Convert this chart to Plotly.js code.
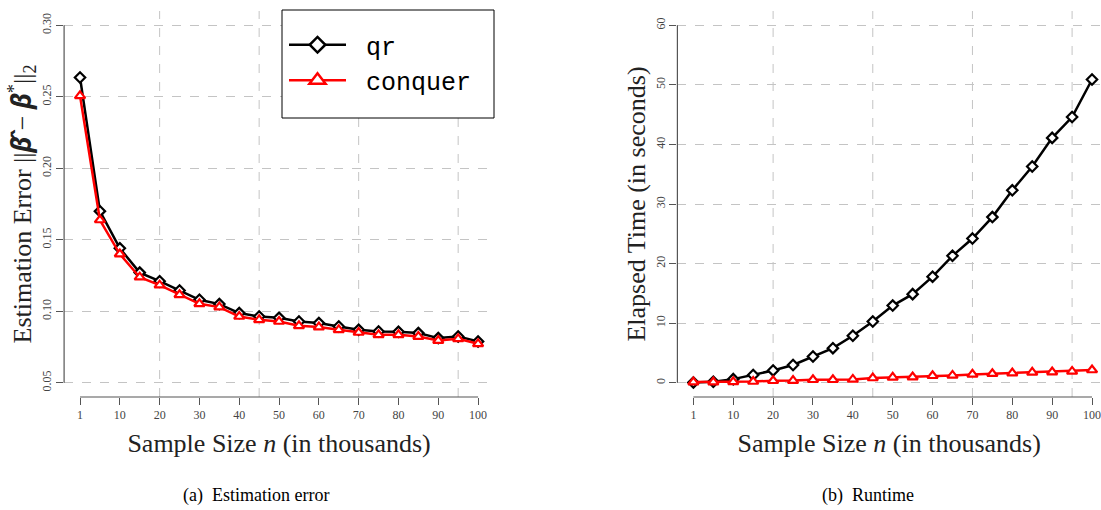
<!DOCTYPE html>
<html>
<head>
<meta charset="utf-8">
<script src="https://cdn.plot.ly/plotly-3.0.1.min.js"></script>
<style>
  html, body { margin: 0; padding: 0; background: #fff; }
  #chart { width: 1101px; height: 510px; }
</style>
</head>
<body>
<div id="chart"></div>
<script>
// ---- data ----
const sampleSize = [1, 5, 10, 15, 20, 25, 30, 35, 40, 45, 50, 55, 60, 65, 70, 75, 80, 85, 90, 95, 100];
const tickLabels = [1, 10, 20, 30, 40, 50, 60, 70, 80, 90, 100];
const gridSizes = [20, 45, 70, 95];
const seriesNames = ['qr', 'conquer'];

const errorQr = [0.2635, 0.170, 0.144, 0.127, 0.121, 0.1145, 0.108, 0.105, 0.0987, 0.0963, 0.0954,
                 0.0928, 0.0917, 0.0893, 0.0870, 0.0858, 0.0856, 0.0847, 0.0812, 0.0823, 0.0789];
const errorConquer = [0.2506, 0.1638, 0.140, 0.1238, 0.1182, 0.1115, 0.1052, 0.1029, 0.0963, 0.094, 0.0928,
                      0.0898, 0.0889, 0.0870, 0.0851, 0.0835, 0.0835, 0.0823, 0.0795, 0.0807, 0.0772];

const timeQr = [0.05, 0.15, 0.6, 1.3, 2.06, 2.97, 4.4, 5.8, 7.88, 10.27, 12.95,
                14.87, 17.8, 21.3, 24.2, 27.8, 32.3, 36.3, 41.1, 44.6, 50.9];
const timeConquer = [0.1, 0.1, 0.15, 0.2, 0.33, 0.35, 0.5, 0.5, 0.55, 0.79, 0.89,
                     0.95, 1.17, 1.22, 1.39, 1.51, 1.62, 1.73, 1.79, 1.89, 2.13];

const errTicks = [0.05, 0.10, 0.15, 0.20, 0.25, 0.30];
const timeTicks = [0, 10, 20, 30, 40, 50, 60];

// ---- helpers ----
const W = 1101, H = 510;
const M = { l: 64, r: 0, t: 11, b: 113 };
const PW = W - M.l - M.r, PH = H - M.t - M.b;
const px2x = p => (p - M.l) / PW;
const px2y = p => (H - M.b - p) / PH;

const idx = sampleSize.map((_, i) => i + 1);
const tickIdx = tickLabels.map(v => sampleSize.indexOf(v) + 1);
const gridIdx = gridSizes.map(v => sampleSize.indexOf(v) + 1);

const serif = 'Liberation Serif, Times New Roman, serif';
const mono = 'Liberation Mono, Courier New, monospace';
const tickFont = { family: serif, size: 12, color: '#444' };
const titleFont = { family: serif, size: 26, color: '#222' };
const gridColor = '#c4c4c4';
const colors = { qr: '#000', conquer: '#ff0000' };
const symbols = { qr: 'diamond', conquer: 'triangle-up' };

function series(y, name, xa, ya) {
  return {
    type: 'scatter', mode: 'lines+markers', x: idx, y: y, name: name,
    xaxis: xa, yaxis: ya, showlegend: false, legendgroup: name,
    line: { color: colors[name], width: 2.5 },
    marker: { symbol: symbols[name], size: name === 'qr' ? 8 : 9, color: '#fff',
              line: { color: colors[name], width: 2.2 } },
    cliponaxis: false
  };
}
// legend-only entries (larger symbols, as in the reference legend)
function legendEntry(name) {
  return {
    type: 'scatter', mode: 'lines+markers', x: [null], y: [null],
    name: '\u00a0' + name, legendgroup: name, showlegend: true, xaxis: 'x', yaxis: 'y',
    line: { color: colors[name], width: 2.5 },
    marker: { symbol: symbols[name], size: name === 'qr' ? 12 : 14, color: '#fff',
              line: { color: colors[name], width: 2.5 } }
  };
}

const traces = [
  series(errorQr, 'qr', 'x', 'y'),
  series(errorConquer, 'conquer', 'x', 'y'),
  series(timeQr, 'qr', 'x2', 'y2'),
  series(timeConquer, 'conquer', 'x2', 'y2'),
  ...seriesNames.map(legendEntry)
];

function xAxis(domain, range, anchor) {
  return {
    domain: domain, range: range, anchor: anchor,
    tickmode: 'array', tickvals: tickIdx, ticktext: tickLabels.map(String),
    ticks: 'outside', ticklen: 7, tickwidth: 1, tickcolor: '#555',
    ticklabeloverflow: 'allow',
    showgrid: false, zeroline: false, showline: false,
    tickfont: tickFont,
    title: { text: 'Sample Size <i>n</i> (in thousands)', font: titleFont, standoff: 12 }
  };
}
function yAxis(range, ticks, fmt, anchor, title, standoff) {
  return {
    domain: [0, 1], range: range, anchor: anchor,
    tickmode: 'array', tickvals: ticks, ticktext: ticks.map(fmt),
    tickangle: -90,
    ticks: 'outside', ticklen: 7, tickwidth: 1, tickcolor: '#555',
    showgrid: true, gridcolor: gridColor, griddash: 'dash', gridwidth: 1,
    zeroline: false, showline: false,
    tickfont: tickFont,
    title: { text: title, font: titleFont, standoff: standoff }
  };
}

const shapes = [];
// vertical dashed grid lines
[['x', 'y'], ['x2', 'y2']].forEach(([xa, ya]) => {
  gridIdx.forEach(g => shapes.push({
    type: 'line', layer: 'below', xref: xa, yref: ya + ' domain', x0: g, x1: g, y0: 0, y1: 1,
    line: { color: gridColor, width: 1, dash: 'dash' }
  }));
});
// detached axis lines (R style)
function axisLines(xa, ya, yTicks) {
  shapes.push({ type: 'line', xref: xa, yref: ya + ' domain',
    x0: idx[0], x1: idx[idx.length - 1], y0: 0, y1: 0, line: { color: '#555', width: 1.2 } });
  shapes.push({ type: 'line', xref: xa + ' domain', yref: ya,
    x0: 0, x1: 0, y0: yTicks[0], y1: yTicks[yTicks.length - 1], line: { color: '#555', width: 1.2 } });
}
axisLines('x', 'y', errTicks);
axisLines('x2', 'y2', timeTicks);
// legend box
shapes.push({ type: 'rect', layer: 'above', xref: 'paper', yref: 'paper',
  x0: px2x(282), x1: px2x(494), y0: px2y(118), y1: px2y(10),
  fillcolor: '#fff', line: { color: '#000', width: 1 } });

const betaHat = '<span style="font-family:Noto Sans"><b><i>\u03B2\u0302</i></b></span>';
const beta = '<span style="font-family:Noto Sans"><b><i>\u03B2</i></b></span>';

const layout = {
  width: W, height: H, margin: M,
  paper_bgcolor: '#fff', plot_bgcolor: '#fff',
  showlegend: true,
  legend: {
    x: px2x(284), y: px2y(22), xanchor: 'left', yanchor: 'top',
    bgcolor: 'rgba(0,0,0,0)', borderwidth: 0,
    font: { family: mono, size: 25, color: '#000' },
    itemwidth: 57, tracegroupgap: 0, traceorder: 'normal'
  },
  xaxis: xAxis([px2x(64.1), px2x(494)], [0.2, 21.8], 'y'),
  yaxis: yAxis([0.04, 0.31], errTicks, v => v.toFixed(2), 'x',
    'Estimation Error ||' + betaHat + ' \u2212 ' + beta + '<sup>*</sup>||<sub>2</sub>', 0),
  xaxis2: xAxis([px2x(677.4), 1], [0.198, 21.45], 'y2'),
  yaxis2: yAxis([-2.4, 62.4], timeTicks, v => String(v), 'x2', 'Elapsed Time (in seconds)', 0),
  shapes: shapes,
  annotations: [
    { text: '(a)  Estimation error', xref: 'paper', yref: 'paper', x: px2x(256), y: px2y(495),
      xanchor: 'center', yanchor: 'middle', showarrow: false, font: { family: serif, size: 18, color: '#000' } },
    { text: '(b)  Runtime', xref: 'paper', yref: 'paper', x: px2x(868), y: px2y(495),
      xanchor: 'center', yanchor: 'middle', showarrow: false, font: { family: serif, size: 18, color: '#000' } }
  ]
};

Plotly.newPlot('chart', traces, layout, { displayModeBar: false, staticPlot: true });
</script>
</body>
</html>
